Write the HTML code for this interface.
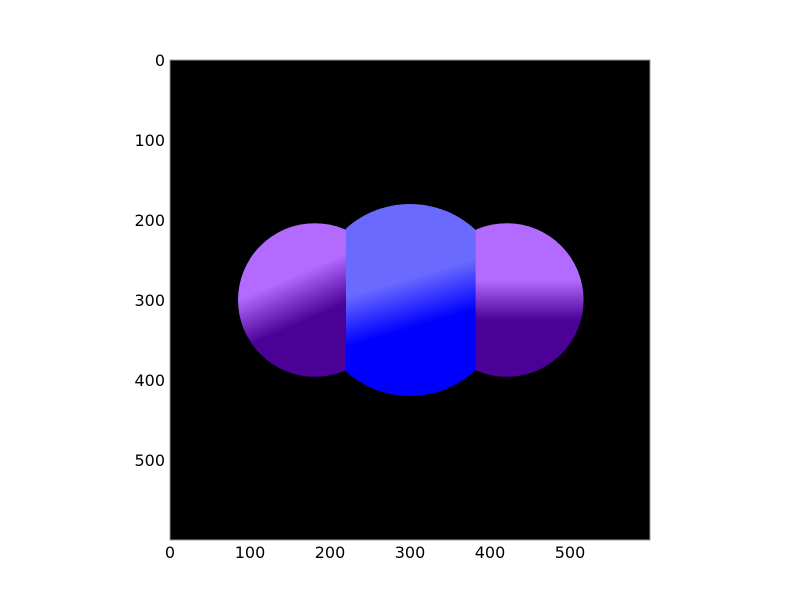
<!DOCTYPE html>
<html><head><meta charset="utf-8"><style>
html,body{margin:0;padding:0;background:#fff;width:800px;height:600px;overflow:hidden}
svg text{font-family:"DejaVu Sans","Liberation Sans",sans-serif;font-size:16px;fill:#000}
</style></head><body>
<svg id="chart" width="800" height="600" viewBox="0 0 800 600">
<defs>
<clipPath id="axclip"><rect x="170" y="60" width="480" height="480"/></clipPath>
</defs>
<g id="plot" clip-path="url(#axclip)"></g>
<g id="axes"></g>
</svg>
<script>
// data (image coordinates, 0-600)
const xTicks = [0, 100, 200, 300, 400, 500];
const yTicks = [0, 100, 200, 300, 400, 500];
const circleCx = [181, 300, 421];
const circleCy = [300, 300, 300];
const circleR = [96, 120, 96];
const lightColors = ['#b36aff', '#6a6aff', '#b36aff'];
const darkColors = ['#4b0096', '#0000ff', '#4b0096'];
// gradient start/end points in data coords
const gradX1 = [85, 220, 420];
const gradY1 = [300, 296, 275];
const gradX2 = [108, 237, 420];
const gradY2 = [353, 354, 325];
// middle circle clipped to band
const bandX0 = 220, bandX1 = 382;

const NS = 'http://www.w3.org/2000/svg';
const L = 170, T = 60, S = 480 / 600;
const sx = v => L + v * S;
const sy = v => T + v * S;
const svg = document.getElementById('chart');
const defs = svg.querySelector('defs');
const plot = document.getElementById('plot');
const axes = document.getElementById('axes');
function mk(tag, attrs, parent) {
  const e = document.createElementNS(NS, tag);
  for (const k in attrs) e.setAttribute(k, attrs[k]);
  parent.appendChild(e); return e;
}
const bg = mk('rect', {x: L, y: T, width: 480, height: 480, fill: '#000'}, plot);



const band = mk('clipPath', {id: 'band'}, defs);
mk('rect', {x: sx(bandX0), y: T, width: sx(bandX1) - sx(bandX0), height: 480}, band);

const order = [0, 2, 1];
order.forEach(i => {
  const g = mk('linearGradient', {id: 'g' + i, gradientUnits: 'userSpaceOnUse',
    x1: sx(gradX1[i]), y1: sy(gradY1[i]), x2: sx(gradX2[i]), y2: sy(gradY2[i])}, defs);
  mk('stop', {offset: 0, 'stop-color': lightColors[i]}, g);
  mk('stop', {offset: 1, 'stop-color': darkColors[i]}, g);
  const c = mk('circle', {cx: sx(circleCx[i]), cy: sy(circleCy[i]), r: circleR[i] * S, fill: 'url(#g' + i + ')'}, plot);
  if (i === 1) c.setAttribute('clip-path', 'url(#band)');
  
  
});

const frame = mk('rect', {x: L, y: T, width: 480, height: 480, fill: 'none', stroke: '#999', 'stroke-width': 1}, axes);



xTicks.forEach(v => {
  const t = mk('text', {x: sx(v), y: 558, 'text-anchor': 'middle'}, axes);
  t.textContent = v;
  
  
});
yTicks.forEach(v => {
  const t = mk('text', {x: 165, y: sy(v) + 6, 'text-anchor': 'end'}, axes);
  t.textContent = v;
  
  
});
</script>
</body></html>
